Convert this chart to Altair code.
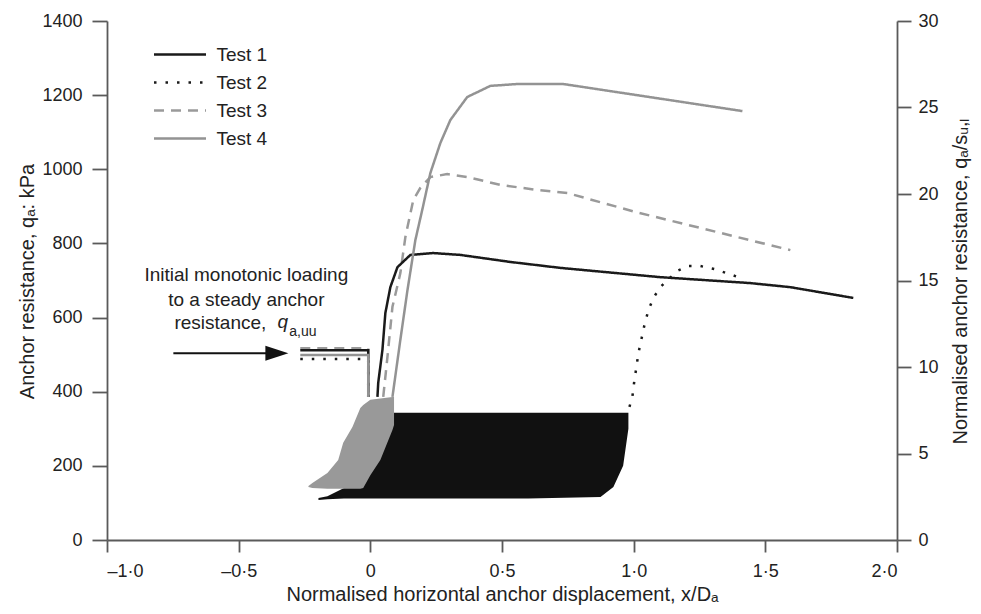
import altair as alt
import pandas as pd

FONT = "Liberation Sans"
TXT = "#222222"

# ---------------- data ----------------
tests = ["Test 1", "Test 2", "Test 3", "Test 4"]
line_colors = ["#1a1a1a", "#1a1a1a", "#9a9a9a", "#939393"]
line_dashes = [[1, 0], [2.5, 9], [10, 7], [1, 0]]

# initial monotonic loading plateau (all tests) and drop into cyclic stage
plateau_x = [-0.266, -0.008, -0.008]
t1_plateau_y = [512, 512, 386]
t2_plateau_y = [488, 488, 386]
t3_plateau_y = [517, 517, 386]
t4_plateau_y = [499, 499, 386]

# post-cyclic monotonic loading
t1_x = [0.027, 0.030, 0.046, 0.057, 0.076, 0.103, 0.152, 0.239, 0.342, 0.532, 0.722, 1.101, 1.443, 1.595, 1.834]
t1_y = [386, 424, 513, 612, 682, 736, 769, 774, 769, 750, 734, 709, 693, 682, 653]

t2_x = [0.984, 0.995, 1.003, 1.010, 1.018, 1.029, 1.041, 1.056, 1.075, 1.101, 1.166, 1.208, 1.253, 1.306, 1.352, 1.398]
t2_y = [359, 386, 432, 464, 504, 540, 580, 620, 653, 682, 726, 739, 739, 731, 720, 709]

t3_x = [0.049, 0.065, 0.084, 0.114, 0.133, 0.163, 0.190, 0.228, 0.292, 0.368, 0.494, 0.634, 0.748, 1.006, 1.595]
t3_y = [386, 494, 629, 720, 817, 917, 950, 979, 987, 979, 958, 944, 936, 885, 782]

t4_x = [0.084, 0.114, 0.141, 0.171, 0.197, 0.228, 0.266, 0.304, 0.368, 0.456, 0.558, 0.733, 1.413]
t4_y = [386, 540, 674, 809, 890, 990, 1071, 1133, 1195, 1225, 1230, 1230, 1157]

# cyclic loading clouds (lower / upper envelope)
black_x = [-0.197, -0.163, -0.100, -0.027, 0.038, 0.087, 0.300, 0.600, 0.874, 0.923, 0.960, 0.980]
black_lo = [108, 110, 112, 112, 112, 112, 112, 112, 116, 143, 200, 300]
black_hi = [113, 118, 140, 162, 251, 343, 343, 343, 343, 343, 343, 343]

gray_x = [-0.235, -0.220, -0.163, -0.122, -0.103, -0.068, -0.038, -0.027, 0.000, 0.038, 0.084, 0.090]
gray_lo = [143, 140, 138, 138, 138, 138, 138, 140, 175, 216, 297, 310]
gray_hi = [146, 154, 181, 216, 262, 305, 356, 364, 378, 382, 386, 386]

x_ticks = [-1.0, -0.5, 0.0, 0.5, 1.0, 1.5, 2.0]
y_ticks = [0, 200, 400, 600, 800, 1000, 1200, 1400]
y2_ticks = [0, 5, 10, 15, 20, 25, 30]

# annotation
ann_lines = ["Initial monotonic loading", "to a steady anchor"]
ann_x = [-0.471, -0.471]
ann_y = [715, 647]
ann3_text = ["resistance,"]
ann3_x = [-0.395]
ann3_y = [585]
q_x = [-0.353]
q_y = [587]
sub_x = [-0.308]
sub_y = [562]
arrow_x = [-0.748]
arrow_x2 = [-0.37]
arrow_y = [504]
head_x = [-0.355]

# ---------------- build tables ----------------
rows = []
order = 0
series = [
    ("Test 2", t2_plateau_y, t2_x, t2_y),
    ("Test 3", t3_plateau_y, t3_x, t3_y),
    ("Test 1", t1_plateau_y, t1_x, t1_y),
    ("Test 4", t4_plateau_y, t4_x, t4_y),
]
for name, py, xs, ys in series:
    for a, b in zip(plateau_x, py):
        rows.append({"x": a, "y": b, "test": name, "seg": name + "a", "o": order})
        order += 1
    for a, b in zip(xs, ys):
        rows.append({"x": a, "y": b, "test": name, "seg": name + "b", "o": order})
        order += 1
lines_df = pd.DataFrame(rows)

black_df = pd.DataFrame({"x": black_x, "lo": black_lo, "hi": black_hi})
gray_df = pd.DataFrame({"x": gray_x, "lo": gray_lo, "hi": gray_hi})

xscale = alt.Scale(domain=[-1, 2], nice=False, zero=False)
yscale = alt.Scale(domain=[0, 1400], nice=False)

x_axis = alt.Axis(
    values=x_ticks,
    labelExpr="datum.value == 0 ? '0' : replace(replace(format(datum.value, '.1f'), '.', '·'), '−', '–')",
    title="Normalised horizontal anchor displacement, x/Dₐ",
    tickSize=12, labelPadding=10,
    titleX=395, titleY=60, titleBaseline="alphabetic", titleAnchor="middle",
    grid=False,
)
y_axis = alt.Axis(
    values=y_ticks, format="d",
    title="Anchor resistance, qₐ: kPa",
    tickSize=15, labelPadding=10,
    titleX=-74, titleY=260, titleAngle=270, titleBaseline="alphabetic",
    grid=False,
)

X = lambda f="x": alt.X(f + ":Q", scale=xscale, axis=x_axis)
Y = lambda f="y": alt.Y(f + ":Q", scale=yscale, axis=y_axis)

black_cloud = alt.Chart(black_df).mark_area(color="#111111", opacity=1).encode(
    x=X(), y=Y("lo"), y2="hi:Q"
)
gray_cloud = alt.Chart(gray_df).mark_area(color="#999999", opacity=1).encode(
    x=X(), y=Y("lo"), y2="hi:Q"
)

legend = alt.Legend(title=None, orient="none", legendX=63.5, legendY=24,
                    symbolType="M-4,0H4", symbolSize=169,
                    symbolStrokeWidth=2.5, labelFontSize=19,
                    labelFont=FONT, labelColor=TXT, labelOffset=27,
                    rowPadding=8, padding=0)

lines = alt.Chart(lines_df).mark_line(strokeWidth=2.5, interpolate="linear").encode(
    x=X(), y=Y(),
    color=alt.Color("test:N", scale=alt.Scale(domain=tests, range=line_colors), legend=legend),
    strokeDash=alt.StrokeDash("test:N", scale=alt.Scale(domain=tests, range=line_dashes), legend=legend),
    detail="seg:N",
    order="o:Q",
)

ann_df = pd.DataFrame({"x": ann_x, "y": ann_y, "t": ann_lines})
ann = alt.Chart(ann_df).mark_text(font=FONT, fontSize=19, color=TXT, align="center", baseline="middle").encode(
    x=X(), y=Y(), text="t:N"
)
ann3 = alt.Chart(pd.DataFrame({"x": ann3_x, "y": ann3_y, "t": ann3_text})).mark_text(
    font=FONT, fontSize=19, color=TXT, align="right", baseline="middle").encode(x=X(), y=Y(), text="t:N")
annq = alt.Chart(pd.DataFrame({"x": q_x, "y": q_y, "t": ["q"]})).mark_text(
    font=FONT, fontSize=19, fontStyle="italic", color=TXT, align="left", baseline="middle").encode(x=X(), y=Y(), text="t:N")
annsub = alt.Chart(pd.DataFrame({"x": sub_x, "y": sub_y, "t": ["a,uu"]})).mark_text(
    font=FONT, fontSize=14, color=TXT, align="left", baseline="middle").encode(x=X(), y=Y(), text="t:N")

arrow = alt.Chart(pd.DataFrame({"x": arrow_x, "x2": arrow_x2, "y": arrow_y})).mark_rule(
    color="#111111", strokeWidth=2).encode(x=X(), x2="x2:Q", y=Y())
head = alt.Chart(pd.DataFrame({"x": head_x, "y": arrow_y})).mark_point(
    shape="M-1,-0.65L1,0L-1,0.65Z", filled=True, size=529, color="#111111", opacity=1).encode(x=X(), y=Y())

main = alt.layer(black_cloud, gray_cloud, lines, ann, ann3, annq, annsub, arrow, head)

right = alt.Chart(pd.DataFrame({"v": [0, 30]})).mark_point(opacity=0).encode(
    y=alt.Y("v:Q", scale=alt.Scale(domain=[0, 30], nice=False),
            axis=alt.Axis(orient="right", values=y2_ticks, tickSize=14, labelPadding=7,
                          title="Normalised anchor resistance, qₐ/sᵤ,ₗ",
                          titleAngle=270, titleX=69, titleY=260, titleBaseline="alphabetic",
                          grid=False))
)

chart = alt.layer(main, right).resolve_scale(y="independent").properties(
    width=790, height=519,
    padding={"left": 99, "top": 13, "right": 76, "bottom": 66},
    autosize=alt.AutoSizeParams(type="none"),
).configure_view(stroke=None).configure_axis(
    domainColor="#5a5a5a", domainWidth=1.8, tickColor="#5a5a5a", tickWidth=1.8,
    labelFont=FONT, labelFontSize=18, labelColor=TXT,
    titleFont=FONT, titleFontSize=20, titleFontWeight="normal", titleColor=TXT,
)

chart.save("out.html", embed_options={"renderer": "svg", "actions": False})
